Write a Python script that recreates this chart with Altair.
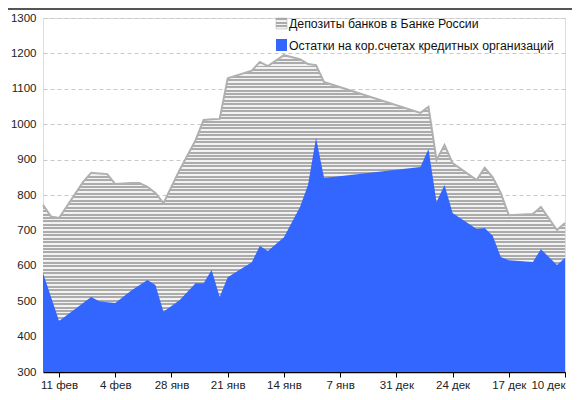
import altair as alt
import pandas as pd

# ---- data ----
dates = ["2012-12-10", "2012-12-11", "2012-12-13", "2012-12-14", "2012-12-17", "2012-12-18",
         "2012-12-19", "2012-12-20", "2012-12-21", "2012-12-24", "2012-12-25", "2012-12-26",
         "2012-12-27", "2012-12-28", "2013-01-09", "2013-01-10", "2013-01-11", "2013-01-12",
         "2013-01-14", "2013-01-16", "2013-01-17", "2013-01-18", "2013-01-21", "2013-01-22",
         "2013-01-23", "2013-01-24", "2013-01-25", "2013-01-27", "2013-01-29", "2013-01-30",
         "2013-01-31", "2013-02-01", "2013-02-02", "2013-02-04", "2013-02-05", "2013-02-06",
         "2013-02-07", "2013-02-08", "2013-02-11", "2013-02-12", "2013-02-13"]
balances = [622, 602, 647, 611, 616, 625, 685, 707, 704, 749, 828, 780, 930, 879,
            848, 961, 828, 766, 681, 642, 656, 610, 568, 512, 588, 551, 551, 503, 470, 546, 560,
            545, 530, 495, 497, 500, 512, 495, 444, 512, 580]
deposits = [99, 99, 119, 135, 127, 181, 165, 170, 138, 141, 113, 119, 119, 153,
            271, 206, 342, 418, 514, 522, 520, 541, 562, 503, 426, 461, 404, 367, 307, 260, 263,
            289, 304, 336, 362, 361, 351, 342, 291, 227, 192]
tick_dates = [(2012, 12, 10), (2012, 12, 17), (2012, 12, 24), (2012, 12, 31), (2013, 1, 7),
              (2013, 1, 14), (2013, 1, 21), (2013, 1, 28), (2013, 2, 4), (2013, 2, 11)]
y_ticks = [300, 400, 500, 600, 700, 800, 900, 1000, 1100, 1200, 1300]
months_ru = ["янв", "фев", "мар", "апр", "май", "июн", "июл", "авг", "сен", "окт", "ноя", "дек"]
series_names = ["Депозиты банков в Банке России", "Остатки на кор.счетах кредитных организаций"]

df = pd.DataFrame({"date": pd.to_datetime(dates), "balances": balances, "deposits": deposits})
df["total"] = df["balances"] + df["deposits"]

W, H = 522, 354
FONT = "Liberation Sans, Arial, sans-serif"
BLUE = "#3366ff"
DARK, LIGHT = "#ababab", "#f2f2f2"


def stripes(n):
    stops = []
    for i in range(n):
        a, b, c = i / n, (i + 0.58) / n, (i + 1) / n
        stops += [{"offset": a, "color": DARK}, {"offset": b, "color": DARK},
                  {"offset": b, "color": LIGHT}, {"offset": c, "color": LIGHT}]
    return {"gradient": "linear", "x1": 0, "y1": 0, "x2": 0, "y2": 1, "stops": stops}


month_arr = "[" + ",".join("'" + m + "'" for m in months_ru) + "]"
xaxis = alt.Axis(values=[alt.DateTime(year=y, month=m, date=d) for y, m, d in tick_dates],
                 labelExpr="date(datum.value) + ' ' + " + month_arr + "[month(datum.value)]",
                 grid=False, domainColor="#000", domainWidth=1.5, tickColor="#000",
                 tickSize=5, tickWidth=1, labelFont=FONT, labelFontSize=11.5,
                 labelColor="#222", labelPadding=2, title=None, labelFlush=True)
yaxis = alt.Axis(values=y_ticks, format="d", grid=True, gridDash=[4, 3], gridColor="#c8c8c8",
                 domain=False, ticks=False, labelFont=FONT, labelFontSize=11.5,
                 labelColor="#222", labelPadding=7, title=None)
xscale = alt.Scale(domain=[alt.DateTime(year=2012, month=12, date=10),
                           alt.DateTime(year=2013, month=2, date=13)], reverse=True)
yscale = alt.Scale(domain=[300, 1300], zero=False, nice=False)

x_enc = alt.X("date:T", scale=xscale, axis=xaxis)

base = alt.Chart(df)
gray = base.mark_area(fill=stripes(92), strokeWidth=0).encode(
    x=x_enc, y=alt.Y("total:Q", scale=yscale, axis=yaxis, stack=None), y2=alt.datum(300))
gray_line = base.mark_line(color="#b0b0b0", strokeWidth=2).encode(
    x=x_enc, y=alt.Y("total:Q", scale=yscale, axis=yaxis, stack=None))
blue = base.mark_area(fill=BLUE, strokeWidth=0).encode(
    x=x_enc, y=alt.Y("balances:Q", scale=yscale, axis=yaxis, stack=None), y2=alt.datum(300))

one = alt.Chart(pd.DataFrame({"k": [0]}))
sw1 = one.mark_rect(fill=stripes(3), stroke="#aaaaaa", strokeWidth=0.5).encode(
    x=alt.value(233), x2=alt.value(244), y=alt.value(0), y2=alt.value(11))
sw2 = one.mark_rect(fill=BLUE).encode(
    x=alt.value(233), x2=alt.value(244), y=alt.value(21), y2=alt.value(33))
t1 = one.mark_text(text=series_names[0], align="left", baseline="middle",
                   font=FONT, fontSize=12.3, color="#111").encode(
    x=alt.value(246), y=alt.value(6))
t2 = one.mark_text(text=series_names[1], align="left", baseline="middle",
                   font=FONT, fontSize=12.3, color="#111").encode(
    x=alt.value(246), y=alt.value(28))
top = one.mark_rule(color="#555555", strokeWidth=2).encode(
    x=alt.value(-35), x2=alt.value(530), y=alt.value(-9))

chart = alt.layer(gray, gray_line, blue, sw1, sw2, t1, t2, top).properties(
    width=W, height=H, autosize="none",
    padding={"left": 35, "top": 10, "right": 7, "bottom": 24},
).configure_view(stroke=None).configure(background="white")

chart.save("out.html", embed_options={"renderer": "svg", "actions": False})
